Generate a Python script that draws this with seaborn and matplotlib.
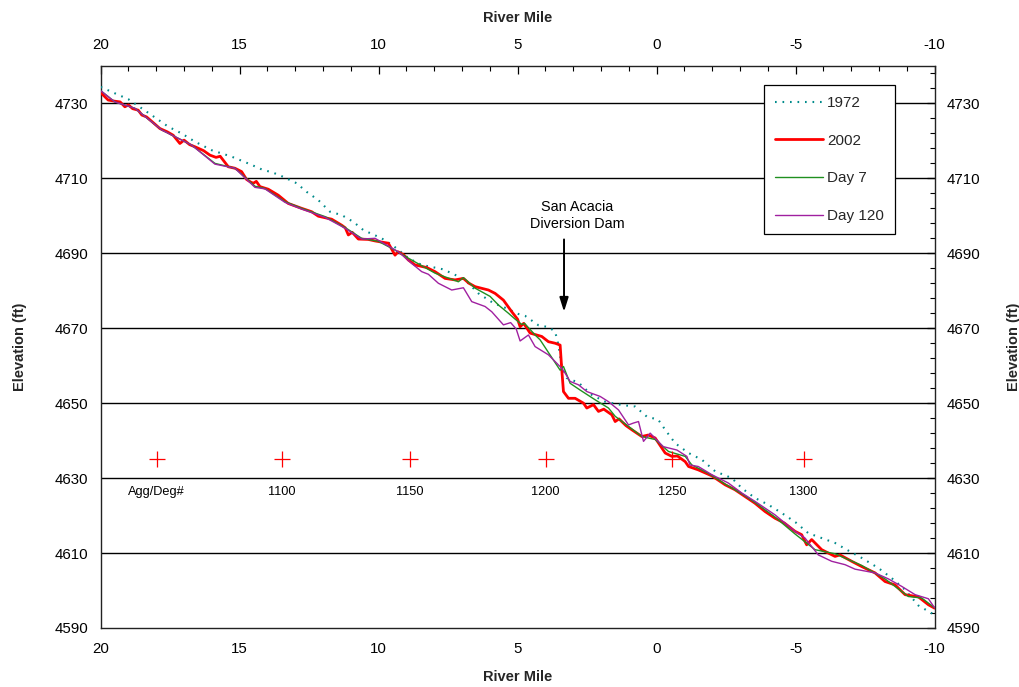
import numpy as np
import pandas as pd
import matplotlib
matplotlib.use("Agg")
import matplotlib.pyplot as plt
from matplotlib.ticker import FixedLocator
import seaborn as sns

# ---------------- data ----------------
rm_1972 = [20, 19.49, 19.0, 18.29, 17.57, 17.09, 16.61, 16.0, 15.29, 14.63, 14.21, 13.79, 13.43,
           12.95, 12.59, 12.17, 11.75, 11.33, 10.91, 10.55, 10.01, 9.77, 9.35, 8.93, 8.45, 7.73,
           7.37, 6.89, 6.41, 5.87, 5.39, 4.97, 4.73, 4.25, 3.89, 3.65, 3.53, 3.41, 3.23, 2.81,
           2.33, 1.85, 1.25, 0.77, 0.35, -0.06, -0.31, -0.67, -1.15, -1.63, -2.11, -2.71, -3.07,
           -3.54, -4.02, -4.5, -5.0, -5.46, -5.94, -6.42, -6.84, -7.38, -7.98, -8.46, -8.94,
           -9.42, -10.0]
el_1972 = [4734.4, 4732.7, 4731.1, 4727.5, 4723.8, 4722.0, 4719.8, 4717.5, 4715.8, 4713.8, 4712.4,
           4711.5, 4710.4, 4708.7, 4706.4, 4704.2, 4701.1, 4700.2, 4698.4, 4696.2, 4694.4, 4693.5,
           4691.3, 4688.7, 4686.9, 4685.8, 4684.7, 4682.9, 4679.3, 4676.7, 4675.3, 4673.8, 4673.3,
           4670.8, 4670.3, 4669.1, 4665.5, 4659.8, 4656.7, 4655.5, 4652.2, 4650.4, 4649.5, 4649.1,
           4646.4, 4645.6, 4642.9, 4639.3, 4636.7, 4634.9, 4631.8, 4630.0, 4627.3, 4624.7, 4622.9,
           4620.7, 4618.2, 4615.3, 4614.0, 4612.7, 4610.9, 4608.7, 4606.0, 4603.3, 4600.2, 4596.0,
           4593.5]

rm_2002 = [20, 19.73, 19.5, 19.3, 19.13, 19.0, 18.85, 18.65, 18.52, 18.35, 18.1, 17.87, 17.6, 17.39,
           17.15, 17.0, 16.8, 16.6, 16.3, 16.07, 15.85, 15.7, 15.41, 15.17, 14.93, 14.75, 14.6,
           14.51, 14.4, 14.27, 13.97, 13.61, 13.25, 12.77, 12.41, 12.17, 11.69, 11.33, 11.2, 11.09,
           10.95, 10.73, 10.37, 10.13, 9.9, 9.65, 9.41, 9.3, 9.1, 8.93, 8.69, 8.27, 7.97, 7.61,
           7.25, 6.95, 6.75, 6.53, 6.05, 5.81, 5.51, 5.21, 5.0, 4.91, 4.78, 4.55, 4.13, 3.89, 3.65,
           3.47, 3.41, 3.35, 3.17, 2.93, 2.63, 2.51, 2.27, 2.09, 1.9, 1.61, 1.49, 1.35, 1.1, 0.89,
           0.53, 0.3, 0.05, -0.31, -0.55, -0.75, -1.03, -1.15, -1.5, -1.99, -2.47, -2.82, -3.18,
           -3.54, -3.9, -4.26, -4.6, -4.98, -5.22, -5.4, -5.58, -5.94, -6.42, -6.6, -7.02, -7.38,
           -7.86, -8.22, -8.58, -8.94, -9.42, -9.78, -10.0]
el_2002 = [4732.9, 4730.9, 4730.6, 4730.4, 4729.1, 4729.6, 4728.6, 4728.2, 4726.9, 4726.4, 4724.8,
           4723.3, 4722.4, 4721.5, 4719.3, 4720.2, 4719.0, 4718.4, 4717.4, 4716.2, 4715.6, 4715.9,
           4713.1, 4712.7, 4711.8, 4709.7, 4709.0, 4708.7, 4709.2, 4707.8, 4707.1, 4705.5, 4703.3,
           4702.0, 4701.1, 4699.9, 4699.1, 4697.5, 4696.8, 4694.9, 4695.6, 4693.8, 4693.7, 4693.3,
           4693.0, 4692.7, 4689.5, 4690.4, 4689.6, 4688.2, 4686.9, 4686.2, 4685.1, 4683.3, 4682.9,
           4683.3, 4682.0, 4681.1, 4680.2, 4679.3, 4677.5, 4674.4, 4672.4, 4670.4, 4671.3, 4668.7,
           4667.8, 4666.4, 4666.0, 4665.5, 4658.9, 4653.1, 4651.3, 4651.3, 4650.0, 4648.7, 4649.6,
           4647.8, 4648.4, 4646.9, 4645.1, 4645.8, 4644.0, 4642.9, 4641.1, 4641.5, 4640.7, 4636.7,
           4635.8, 4635.9, 4634.4, 4633.1, 4632.2, 4630.6, 4628.2, 4626.9, 4625.1, 4623.3, 4621.1,
           4619.3, 4618.0, 4615.8, 4614.9, 4612.2, 4613.6, 4610.9, 4609.1, 4609.5, 4607.8, 4606.4,
           4604.7, 4602.4, 4601.5, 4598.9, 4598.3, 4596.2, 4595.3]

rm_day7 = [20, 19.49, 18.77, 17.8, 16.73, 15.89, 15.17, 14.45, 14.09, 13.37, 12.77, 11.93, 11.21,
           10.61, 10.01, 9.4, 8.93, 7.97, 7.13, 6.95, 6.53, 5.99, 5.69, 5.33, 5.1, 4.85, 4.75,
           4.37, 4.19, 3.71, 3.47, 3.35, 3.11, 2.75, 2.21, 1.73, 1.49, 1.01, 0.53, 0.05, -0.43,
           -1.03, -1.27, -1.86, -2.47, -3.07, -3.54, -4.26, -4.98, -5.7, -6.42, -7.38, -8.22,
           -9.06, -9.54, -10.0]
el_day7 = [4733.4, 4730.4, 4728.7, 4722.9, 4718.9, 4714.0, 4712.7, 4707.9, 4707.3, 4703.8, 4702.0,
           4699.8, 4696.9, 4694.0, 4693.2, 4690.8, 4688.7, 4684.7, 4682.4, 4683.5, 4680.7, 4678.5,
           4676.2, 4674.0, 4672.5, 4671.0, 4671.3, 4668.2, 4666.9, 4661.5, 4658.8, 4659.8, 4655.3,
           4653.5, 4650.9, 4648.7, 4646.5, 4643.8, 4641.1, 4640.3, 4637.1, 4635.8, 4633.5, 4631.3,
           4628.4, 4625.8, 4623.5, 4619.6, 4615.1, 4610.9, 4609.8, 4606.7, 4603.1, 4598.4, 4598.0,
           4595.4]

rm_day120 = [20, 19.49, 18.77, 17.8, 16.73, 15.89, 15.17, 14.45, 14.09, 13.37, 12.77, 11.93, 11.21,
             10.61, 10.13, 9.29, 8.81, 8.45, 8.21, 7.85, 7.37, 6.95, 6.65, 6.17, 5.93, 5.51, 5.25,
             5.05, 4.91, 4.61, 4.37, 3.89, 3.65, 3.41, 3.29, 3.11, 2.81, 2.51, 2.03, 1.73, 1.37,
             1.01, 0.83, 0.65, 0.47, 0.23, -0.24, -0.73, -1.09, -1.2, -1.5, -1.99, -2.58, -3.07,
             -3.54, -4.26, -4.98, -5.34, -5.82, -6.3, -6.78, -7.14, -7.86, -8.34, -8.82, -9.3,
             -9.78, -10.0]
el_day120 = [4733.4, 4730.4, 4728.7, 4722.9, 4718.9, 4713.8, 4712.7, 4707.6, 4707.2, 4703.6, 4701.8,
             4699.6, 4696.7, 4693.8, 4694.0, 4690.4, 4687.3, 4685.1, 4684.4, 4682.0, 4680.2, 4680.8,
             4677.1, 4675.8, 4674.4, 4670.9, 4671.5, 4669.8, 4666.6, 4668.2, 4665.1, 4662.9, 4661.1,
             4659.3, 4658.0, 4655.8, 4654.9, 4653.1, 4651.8, 4650.4, 4648.2, 4644.2, 4644.7, 4645.1,
             4639.8, 4642.0, 4638.4, 4637.5, 4635.8, 4633.5, 4633.1, 4630.9, 4628.7, 4626.0, 4623.8,
             4620.2, 4615.8, 4614.0, 4609.5, 4607.8, 4606.9, 4605.7, 4604.7, 4603.1, 4601.1, 4598.9,
             4597.8, 4595.4]

agg_rm = [17.98, 13.49, 8.87, 3.99, -0.55, -5.29]
agg_el = [4635, 4635, 4635, 4635, 4635, 4635]
agg_labels = ["Agg/Deg#", "1100", "1150", "1200", "1250", "1300"]
agg_label_el = 4626.3

x_ticks = [20, 15, 10, 5, 0, -5, -10]
y_ticks = [4590, 4610, 4630, 4650, 4670, 4690, 4710, 4730]

dam_text = "San Acacia\nDiversion Dam"
dam_text_rm = 2.86
dam_text_el = 4700.0
dam_rm = 3.33
dam_arrow_from = 4693.7
dam_arrow_to = 4674.4

# ---------------- style ----------------
sns.set_theme(style="white")
plt.rcParams["font.family"] = ["Liberation Sans", "DejaVu Sans"]
plt.rcParams["axes.unicode_minus"] = False

fig = plt.figure(figsize=(10.19, 6.87), dpi=100)
ax = fig.add_axes([0.0988, 0.0859, 0.9171 - 0.0988, 0.904 - 0.0859])

# gridlines at the major elevations
for yv in y_ticks[1:]:
    ax.axhline(yv, color="black", lw=1.0, zorder=1)

sns.lineplot(x=rm_1972, y=el_1972, ax=ax, sort=False, estimator=None, color="#008B8B",
             lw=1.5, linestyle=(0, (0.8, 2.8)), label="1972", zorder=3)
sns.lineplot(x=rm_2002, y=el_2002, ax=ax, sort=False, estimator=None, color="#FF0000",
             lw=2.0, label="2002", zorder=4)
sns.lineplot(x=rm_day7, y=el_day7, ax=ax, sort=False, estimator=None, color="#209020",
             lw=1.0, label="Day 7", zorder=5)
sns.lineplot(x=rm_day120, y=el_day120, ax=ax, sort=False, estimator=None, color="#A020A0",
             lw=1.0, label="Day 120", zorder=6)

sns.scatterplot(x=agg_rm, y=agg_el, ax=ax, marker="+", s=120, color="#FF0000",
                linewidth=0.9, zorder=7, legend=False)
for xr, lab in zip(agg_rm, agg_labels):
    ax.text(xr, agg_label_el, lab, ha="center", va="center", fontsize=9.2, color="black")

ax.text(dam_text_rm, dam_text_el, dam_text, ha="center", va="center", fontsize=10.4,
        color="black", linespacing=1.3)
ax.annotate("", xy=(dam_rm, dam_arrow_to), xytext=(dam_rm, dam_arrow_from),
            arrowprops=dict(arrowstyle="-|>,head_length=0.7,head_width=0.22",
                            color="black", lw=1.4, shrinkA=0, shrinkB=0))

ax.set_xlim(20, -10)
ax.set_ylim(4590, 4740)
ax.set_xticks(x_ticks)
ax.set_yticks(y_ticks)
ax.xaxis.set_minor_locator(FixedLocator(np.arange(-10, 20.5, 1)))
ax.yaxis.set_minor_locator(FixedLocator(np.arange(4590, 4741, 4)))

for s in ax.spines.values():
    s.set_color("#222222")
    s.set_linewidth(1.0)

ax.tick_params(axis="both", which="both", direction="in", top=True, right=True,
               labeltop=True, labelright=True, colors="black", labelsize=10.8)
ax.tick_params(axis="both", which="major", length=6, width=0.9)
ax.tick_params(axis="both", which="minor", length=3.5, width=0.8)
ax.tick_params(axis="x", which="major", pad=10)
ax.tick_params(axis="y", which="major", pad=9)

ax.set_xlabel("River Mile", fontsize=10.5, fontweight="bold", labelpad=10)
ax.set_ylabel("Elevation (ft)", fontsize=10.5, fontweight="bold", labelpad=20)

secx = ax.secondary_xaxis("top")
secx.set_xticks([])
secx.tick_params(which="both", length=0, labeltop=False)
secx.set_xlabel("River Mile", fontsize=10.5, fontweight="bold", labelpad=32)
secx.spines["top"].set_visible(False)
secy = ax.secondary_yaxis("right")
secy.set_yticks([])
secy.tick_params(which="both", length=0, labelright=False)
secy.set_ylabel("Elevation (ft)", fontsize=10.5, fontweight="bold", labelpad=52)
secy.spines["right"].set_visible(False)

leg = ax.legend(loc="upper right", bbox_to_anchor=(0.9526, 0.966), fontsize=11,
                frameon=True, fancybox=False, edgecolor="black", framealpha=1.0,
                handlelength=3.1, handletextpad=0.3, labelspacing=1.55, borderpad=0.72,
                borderaxespad=0.0)
leg.get_frame().set_linewidth(0.9)
leg.set_zorder(10)

fig.savefig("out.png", dpi=100)
